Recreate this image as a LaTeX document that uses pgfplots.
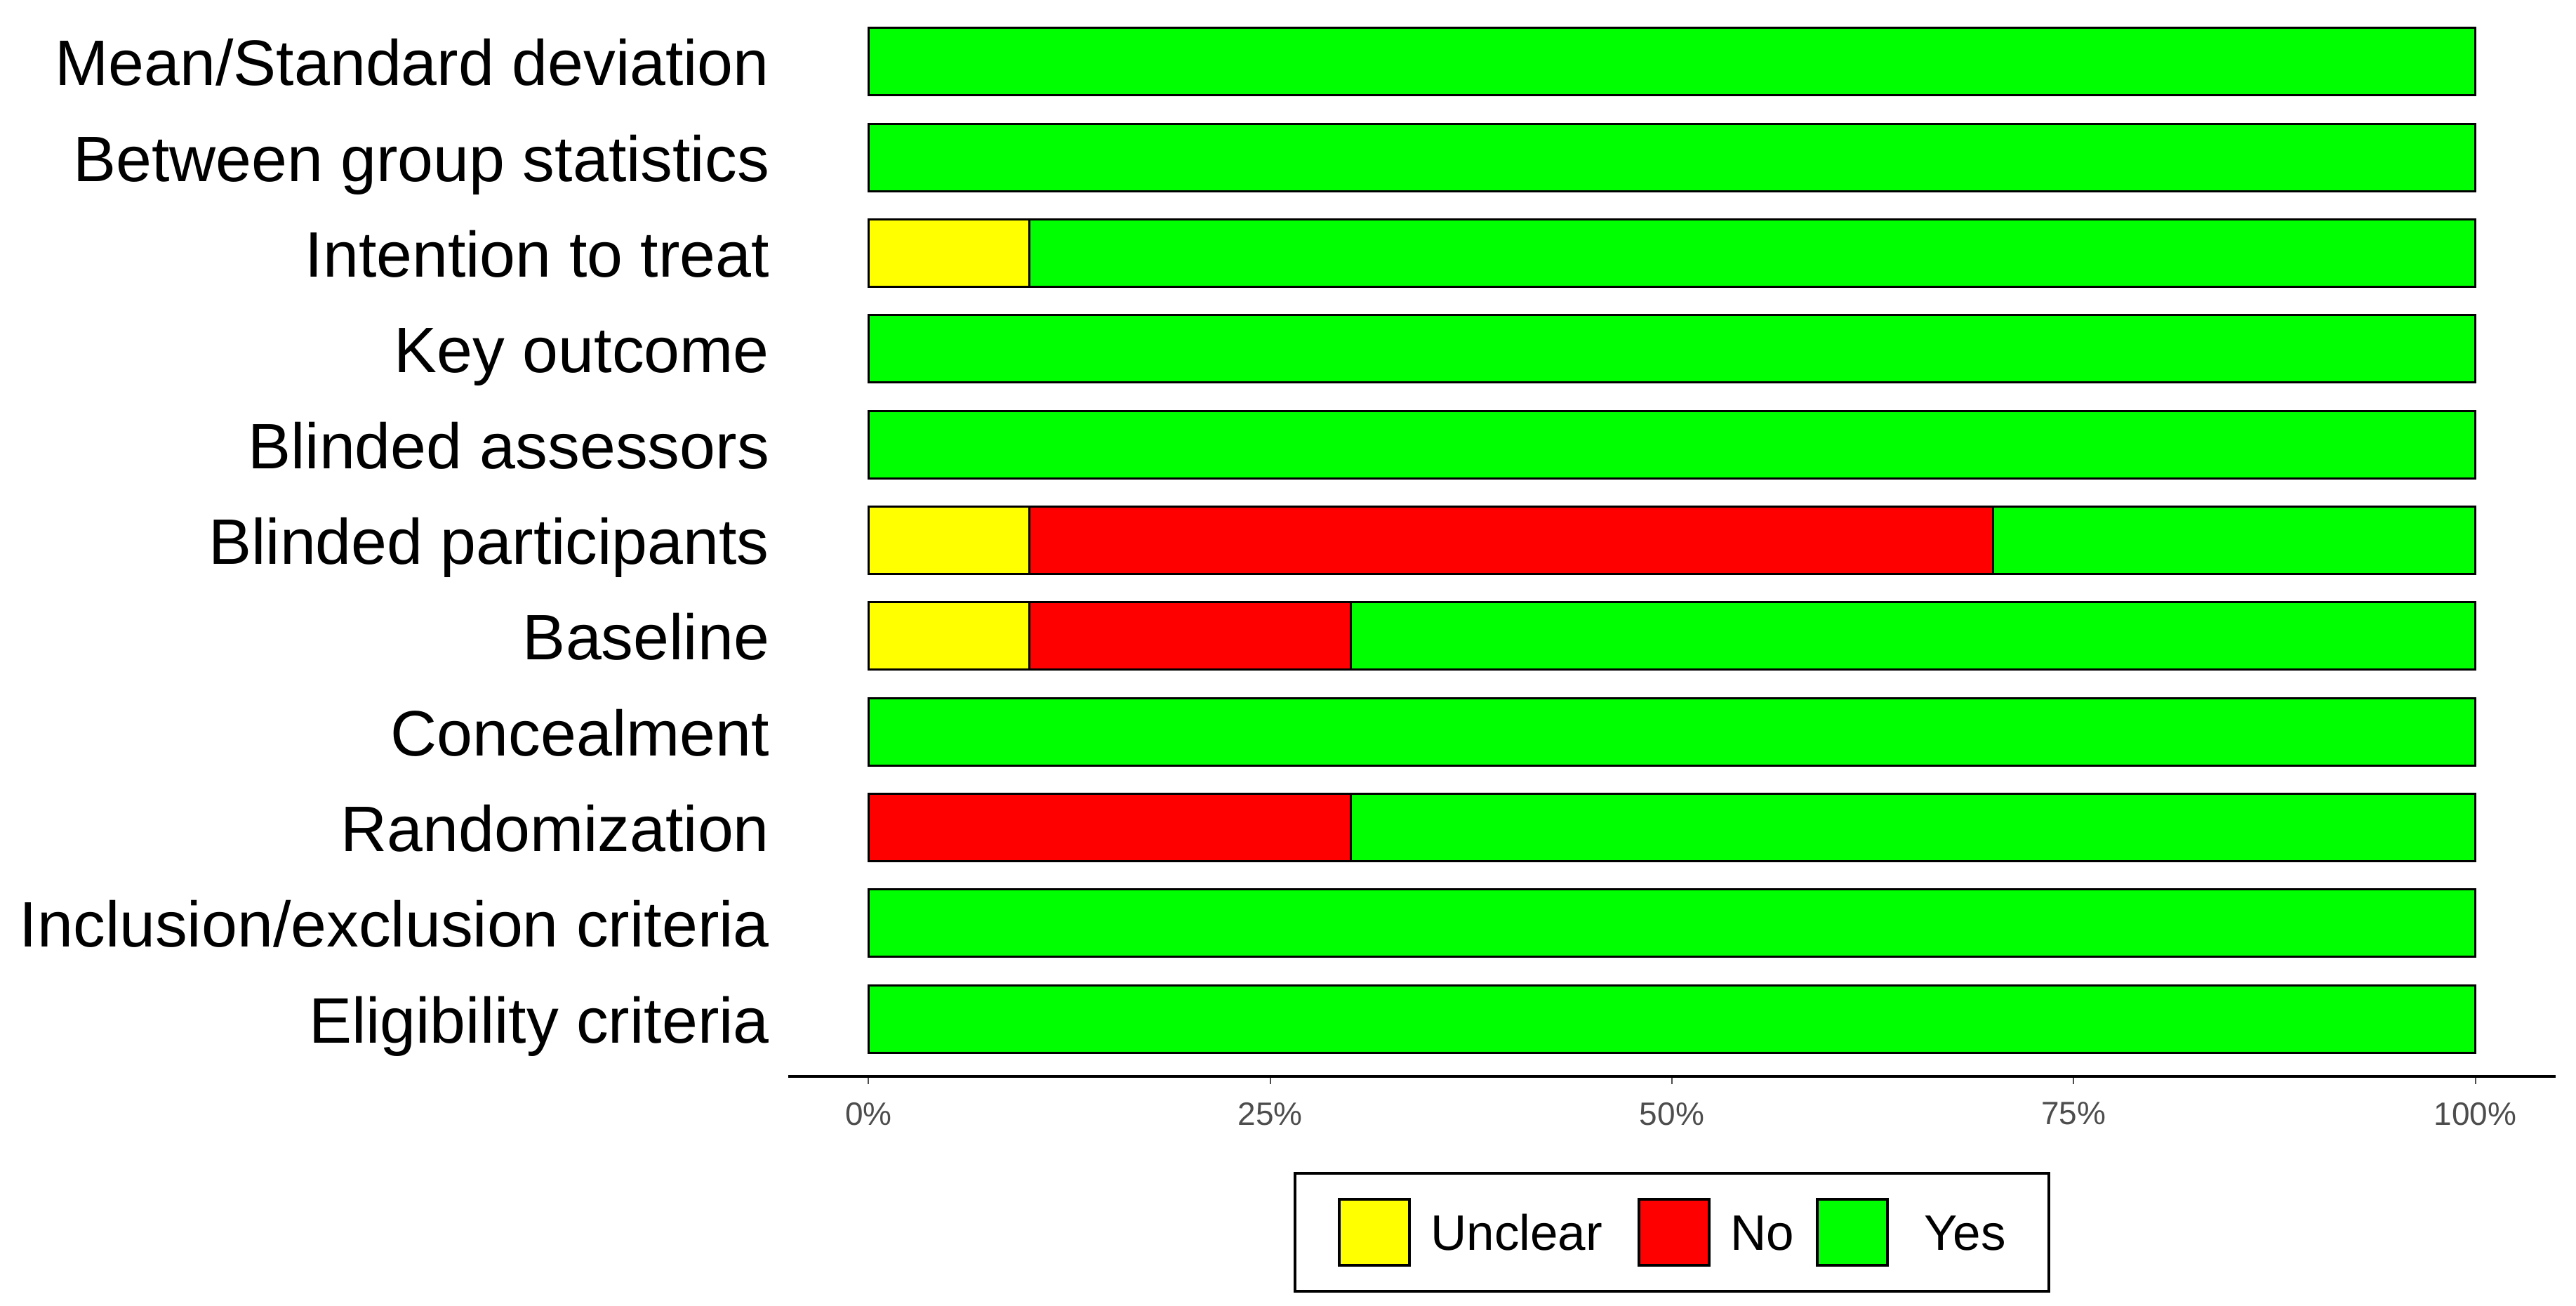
\documentclass[border=0pt]{standalone}
\usepackage{pgfplots}
\pgfplotsset{compat=1.18}
\usepackage{fontspec}
\setmainfont{Liberation Sans}
\definecolor{cY}{RGB}{255,255,0}
\definecolor{cN}{RGB}{255,0,0}
\definecolor{cG}{RGB}{0,255,0}
\definecolor{tickgray}{RGB}{77,77,77}
\newcommand{\lstrut}{\rule{0pt}{6.6pt}}
\begin{document}
\begin{tikzpicture}
\useasboundingbox (-112.3pt,-32.6pt) rectangle (254.7pt,153.3pt);
\begin{axis}[
  at={(0,0)}, anchor=south west,
  scale only axis, width=251.8pt, height=152.7pt,
  xmin=-5, xmax=105, ymin=0.4, ymax=11.6,
  xbar, bar width=9.6pt, bar shift=0pt,
  axis x line*=bottom, axis y line*=left,
  x axis line style={line width=0.4pt, black},
  y axis line style={draw=none},
  xtick={0,25,50,75,100},
  xticklabels={0\%,25\%,50\%,75\%,100\%},
  tick align=outside, major tick length=1.1pt,
  xtick style={draw=tickgray, line width=0.2pt},
  ytick style={draw=none},
  /pgf/number format/assume math mode=true,
  xticklabel style={font=\fontsize{4.6}{5}\selectfont, text=tickgray, inner sep=0pt, yshift=-2.4pt},
  ytick={1,...,11},
  yticklabels={Eligibility criteria, Inclusion/exclusion criteria, Randomization, Concealment, Baseline, Blinded participants, Blinded assessors, Key outcome, Intention to treat, Between group statistics, Mean/Standard deviation},
  yticklabel style={font=\fontsize{9.15}{11}\selectfont, text=black, inner sep=0pt, anchor=base east, xshift=-1.4pt, yshift=-3.4pt},
  legend columns=3,
  legend image code/.code={\draw[#1, line width=0.4pt] (0pt,-4.7pt) rectangle (10pt,4.7pt);},
  legend style={at={(axis description cs:0.5,0)}, yshift=-13.6pt, anchor=north,
    draw=black, line width=0.4pt, inner xsep=6.1pt, inner ysep=3.5pt,
    font=\fontsize{7.1}{8.5}\selectfont,
    nodes={inner sep=0pt, anchor=west},
    /tikz/column 1/.style={column sep=2.8pt},
    /tikz/column 2/.style={column sep=5pt},
    /tikz/column 3/.style={column sep=2.8pt},
    /tikz/column 4/.style={column sep=3.1pt},
    /tikz/column 5/.style={column sep=5.1pt}},
]
\addlegendimage{fill=cY, draw=black}
\addlegendentry{\lstrut Unclear}
\addlegendimage{fill=cN, draw=black}
\addlegendentry{\lstrut No}
\addlegendimage{fill=cG, draw=black}
\addlegendentry{\lstrut Yes}
% Yes (cumulative end = 100)
\addplot+[forget plot, fill=cG, draw=black, line width=0.3pt] coordinates {
(100,1) (100,2) (100,3) (100,4) (100,5) (100,6) (100,7) (100,8) (100,9) (100,10) (100,11)};
% No (cumulative end = Unclear + No)
\addplot+[forget plot, fill=cN, draw=black, line width=0.3pt] coordinates {
(30,3) (30,5) (70,6)};
% Unclear
\addplot+[forget plot, fill=cY, draw=black, line width=0.3pt] coordinates {
(10,5) (10,6) (10,9)};
\end{axis}
\end{tikzpicture}
\end{document}
